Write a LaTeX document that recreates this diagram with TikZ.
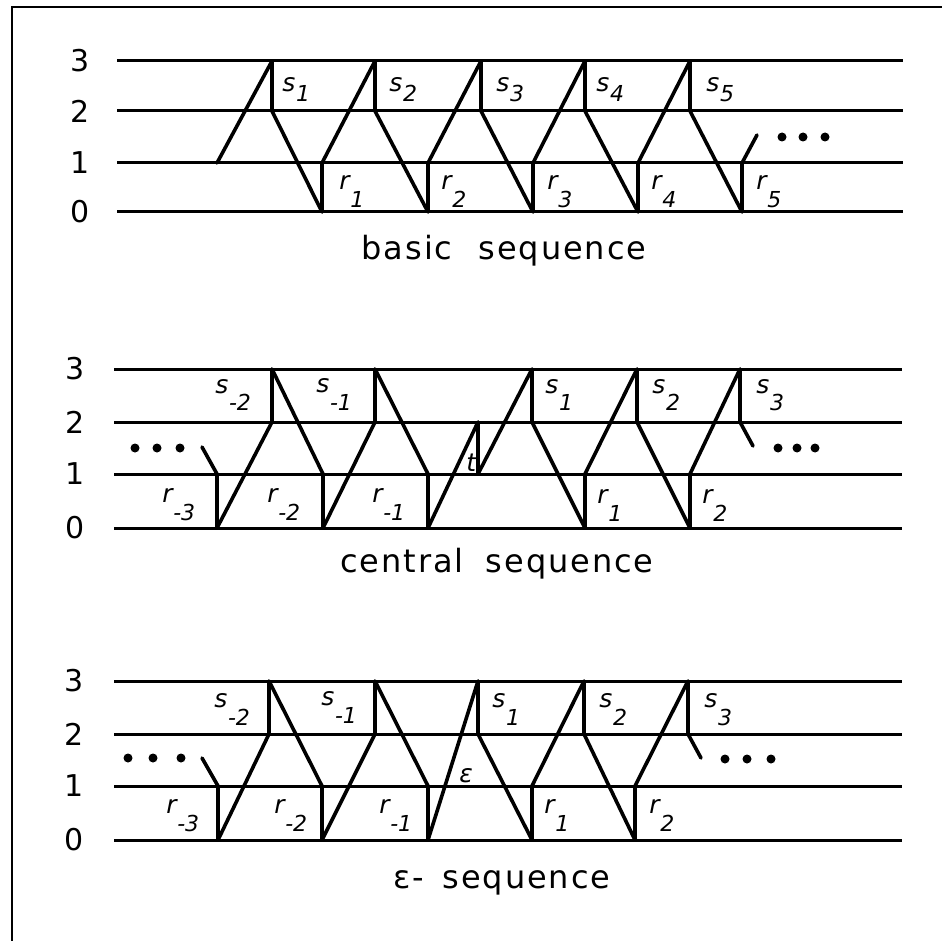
\documentclass[tikz,border=0pt]{standalone}
\usepackage{fontspec}
\setmainfont{DejaVu Sans}
\newfontfamily\titlefont[LetterSpace=6]{DejaVu Sans}
\newcommand\lbl[3]{{\fontsize{12.5}{13}\selectfont\itshape #1}\kern0.3pt\raisebox{-#3}{\fontsize{11}{12}\selectfont\itshape #2}}
\tikzset{
  frameline/.style={line width=1.3pt},
  lvl/.style={line width=1.5pt},
  seg/.style={line width=1.8pt, line cap=round, line join=round},
  digit/.style={font=\fontsize{15}{16}\selectfont, inner sep=0pt, anchor=center},
  ttl/.style={font=\titlefont\fontsize{16}{17}\selectfont, inner sep=0pt, anchor=base},
  lab/.style={inner sep=0pt, anchor=base west},
  dotmark/.style={fill=black},
}
\begin{document}
\begin{tikzpicture}[x=0.5pt, y=-0.5pt]
\useasboundingbox (0,0) rectangle (942,941);
\fill[white] (0,0) rectangle (942,941);
% frame
\draw[frameline] (942,7) -- (12,7) -- (12,941);

% ---------- panel 1: basic sequence ----------
\foreach \yy/\d/\n in {61/3/a, 111/2/b, 163/1/c, 212/0/d} {
  \draw[lvl] (117,\yy) -- (903,\yy);
  \node[digit] (pa\n) at (80,\yy) {\d};
}
\draw[seg] (217,163) -- (272,61) -- (272,111) -- (322,212) -- (322,163)
  -- (375,61) -- (375,111) -- (428,212) -- (428,163)
  -- (481,61) -- (481,111) -- (533,212) -- (533,163)
  -- (585,61) -- (585,111) -- (638,212) -- (638,163)
  -- (690,61) -- (690,111) -- (742,212) -- (742,163) -- (757,135);
\foreach \xx in {782,803,825} \fill[dotmark] (\xx,137) circle (4.5);
\node[lab] (ps1) at (282,92) {\lbl{s}{1}{5pt}};
\node[lab] (ps2) at (389,92) {\lbl{s}{2}{5pt}};
\node[lab] (ps3) at (496,92) {\lbl{s}{3}{5pt}};
\node[lab] (ps4) at (596,92) {\lbl{s}{4}{5pt}};
\node[lab] (ps5) at (706,92) {\lbl{s}{5}{5pt}};
\node[lab] (pr1) at (339,190) {\lbl{r}{1}{9pt}};
\node[lab] (pr2) at (441,190) {\lbl{r}{2}{9pt}};
\node[lab] (pr3) at (547,190) {\lbl{r}{3}{9pt}};
\node[lab] (pr4) at (651,190) {\lbl{r}{4}{9pt}};
\node[lab] (pr5) at (756,190) {\lbl{r}{5}{9pt}};
\node[ttl] (t1) at (504,260) {basic\hspace{7pt} sequence};

% ---------- panel 2: central sequence ----------
\foreach \yy/\d/\n in {369/3/a, 422/2/b, 474/1/c, 528/0/d} {
  \draw[lvl] (114,\yy) -- (902,\yy);
  \node[digit] (pb\n) at (75,\yy) {\d};
}
\draw[seg] (202,447) -- (217,474) -- (217,528) -- (272,422) -- (272,369)
  -- (323,474) -- (323,528) -- (375,422) -- (375,369)
  -- (428,474) -- (428,528) -- (478,422) -- (478,474)
  -- (532,369) -- (532,422) -- (585,528) -- (585,474)
  -- (637,369) -- (637,422) -- (690,528) -- (690,474)
  -- (740,369) -- (740,422) -- (753,446);
\foreach \xx in {135,157,180} \fill[dotmark] (\xx,448) circle (4.5);
\foreach \xx in {778,797,815} \fill[dotmark] (\xx,448) circle (4.5);
\node[lab] (qs-2) at (215,393) {\lbl{s}{-2}{9pt}};
\node[lab] (qs-1) at (316,392) {\lbl{s}{-1}{9pt}};
\node[lab] (qs1) at (545,393) {\lbl{s}{1}{9pt}};
\node[lab] (qs2) at (652,393) {\lbl{s}{2}{9pt}};
\node[lab] (qs3) at (756,393) {\lbl{s}{3}{9pt}};
\node[lab] (qr-3) at (162,502) {\lbl{r}{-3}{9pt}};
\node[lab] (qr-2) at (267,502) {\lbl{r}{-2}{9pt}};
\node[lab] (qr-1) at (372,502) {\lbl{r}{-1}{9pt}};
\node[lab] (qr1) at (597,503) {\lbl{r}{1}{9pt}};
\node[lab] (qr2) at (702,503) {\lbl{r}{2}{9pt}};
\node[lab, font=\fontsize{12.5}{13}\selectfont\itshape] (qt) at (466,471) {t};
\node[ttl] (t2) at (497,572) {central\hspace{5pt} sequence};

% ---------- panel 3: epsilon sequence ----------
\foreach \yy/\d/\n in {681/3/a, 734/2/b, 786/1/c, 840/0/d} {
  \draw[lvl] (114,\yy) -- (902,\yy);
  \node[digit] (pc\n) at (74,\yy) {\d};
}
\draw[seg] (202,758) -- (218,786) -- (218,840) -- (269,734) -- (269,681)
  -- (322,786) -- (322,840) -- (375,734) -- (375,681)
  -- (428,786) -- (428,840) -- (478,681) -- (478,734)
  -- (532,840) -- (532,786) -- (584,681) -- (584,734)
  -- (635,840) -- (635,786) -- (688,681) -- (688,734) -- (701,758);
\foreach \xx in {128,153,181} \fill[dotmark] (\xx,758) circle (4.5);
\foreach \xx in {725,747,771} \fill[dotmark] (\xx,759) circle (4.5);
\node[lab] (us-2) at (214,707) {\lbl{s}{-2}{9pt}};
\node[lab] (us-1) at (321,705) {\lbl{s}{-1}{9pt}};
\node[lab] (us1) at (492,707) {\lbl{s}{1}{9pt}};
\node[lab] (us2) at (599,707) {\lbl{s}{2}{9pt}};
\node[lab] (us3) at (704,707) {\lbl{s}{3}{9pt}};
\node[lab] (ur-3) at (166,813) {\lbl{r}{-3}{9pt}};
\node[lab] (ur-2) at (274,813) {\lbl{r}{-2}{9pt}};
\node[lab] (ur-1) at (379,813) {\lbl{r}{-1}{9pt}};
\node[lab] (ur1) at (544,813) {\lbl{r}{1}{9pt}};
\node[lab] (ur2) at (649,813) {\lbl{r}{2}{9pt}};
\node[lab, font=\fontsize{12.5}{13}\selectfont\itshape] (ue) at (459,782) {ε};
\node[ttl] (t3) at (502,888) {ε-\hspace{3pt} sequence};
\end{tikzpicture}
\end{document}
